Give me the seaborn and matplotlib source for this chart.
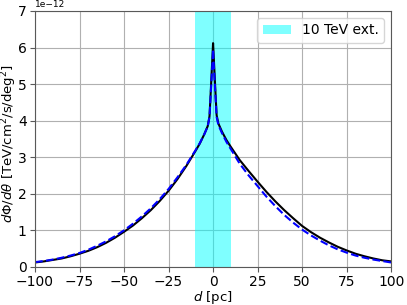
import matplotlib
matplotlib.use("Agg")
import matplotlib.pyplot as plt
import seaborn as sns
import pandas as pd

# distance from source [pc]
d_pc = [-100, -95, -90, -85, -80, -75, -70, -65, -60, -55, -50, -45, -40, -35,
        -30, -25, -20, -15, -10, -7.5, -5, -3, -2, -1.5, -1, -0.5, 0,
        0.5, 1, 1.5, 2, 3, 5, 7.5, 10, 15, 20, 25, 30, 35, 40, 45, 50, 55,
        60, 65, 70, 75, 80, 85, 90, 95, 100]

# surface brightness profile, units of 1e-12 TeV/cm^2/s/deg^2
solid_vals = [0.12, 0.15, 0.19, 0.23, 0.29, 0.36, 0.44, 0.54, 0.66, 0.80, 0.96,
              1.13, 1.33, 1.55, 1.80, 2.08, 2.40, 2.76, 3.16, 3.37, 3.62, 3.85,
              4.12, 4.60, 5.10, 5.60, 6.12,
              5.62, 5.12, 4.62, 4.15, 3.92, 3.70, 3.47, 3.28, 2.92, 2.62, 2.33,
              2.05, 1.79, 1.55, 1.33, 1.12, 0.95, 0.80, 0.67, 0.55, 0.45, 0.36,
              0.29, 0.23, 0.18, 0.15]

dashed_vals = [0.13, 0.16, 0.20, 0.25, 0.31, 0.38, 0.47, 0.58, 0.70, 0.84, 1.00,
               1.18, 1.38, 1.60, 1.85, 2.13, 2.45, 2.79, 3.18, 3.38, 3.62, 3.84,
               4.10, 4.55, 5.00, 5.45, 5.95,
               5.45, 5.00, 4.55, 4.10, 3.88, 3.66, 3.42, 3.22, 2.82, 2.50, 2.21,
               1.92, 1.66, 1.42, 1.21, 1.02, 0.86, 0.72, 0.59, 0.48, 0.39, 0.31,
               0.25, 0.20, 0.16, 0.12]

ext_lo, ext_hi = -10, 10

df = pd.DataFrame({
    "d": d_pc,
    "solid": [v * 1e-12 for v in solid_vals],
    "dashed": [v * 1e-12 for v in dashed_vals],
})

plt.rcParams.update({
    "font.size": 10,
    "axes.edgecolor": "0.35",
    "xtick.color": "0.35",
    "ytick.color": "0.35",
    "xtick.labelcolor": "black",
    "ytick.labelcolor": "black",
    "xtick.major.pad": 2.5,
    "ytick.major.pad": 2.5,
})

fig, ax = plt.subplots(figsize=(4.07, 3.05), dpi=100)
fig.subplots_adjust(left=0.086, right=0.961, bottom=0.125, top=0.964)

ax.axvspan(ext_lo, ext_hi, color="cyan", alpha=0.5, lw=0, label="10 TeV ext.")
sns.lineplot(data=df, x="d", y="solid", ax=ax, color="black", lw=1.5)
sns.lineplot(data=df, x="d", y="dashed", ax=ax, color="blue", lw=1.5, ls="--")

ax.set_xlim(-100, 100)
ax.set_ylim(0, 7e-12)
ax.grid(True, color="#b0b0b0", lw=0.8)
ax.set_axisbelow(True)
ax.set_xlabel(r"$d$ [pc]", fontsize=9.5)
ax.xaxis.set_label_coords(0.5, -0.088)
ax.set_ylabel(r"$d\Phi/d\theta$ [TeV/cm$^2$/s/deg$^2$]", fontsize=9.5)
ax.yaxis.set_label_coords(-0.046, 0.48)
ax.yaxis.get_offset_text().set_fontsize(6.5)

handles, labels = ax.get_legend_handles_labels()
ax.legend(handles[:1], labels[:1], loc="upper right")

fig.savefig("out.png", dpi=100)
